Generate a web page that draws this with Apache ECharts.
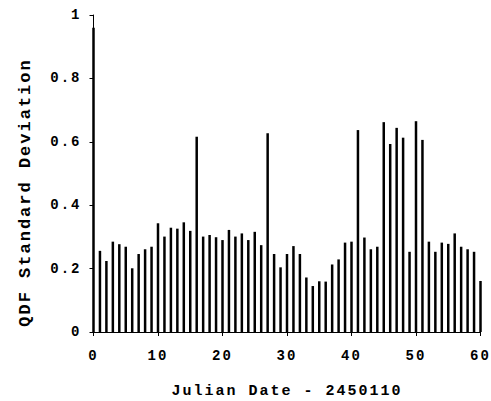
<!DOCTYPE html>
<html lang="en">

<head>
  <meta charset="UTF-8">
  <title>QDF Standard Deviation</title>
  <style>
    html, body { margin: 0; padding: 0; background: #fff; }
    .chart { width: 491px; height: 401px; }
    /* the scanned typewriter lettering is widely spaced */
    .chart text { letter-spacing: 2px; }
  </style>
</head>

<body>
  <div class="chart"></div>
  <script src="https://cdn.jsdelivr.net/npm/echarts@6/dist/echarts.min.js"></script>
  <script>
    // Julian Date - 2450110
    let days = [0, 1, 2, 3, 4, 5, 6, 7, 8, 9,
      10, 11, 12, 13, 14, 15, 16, 17, 18, 19,
      20, 21, 22, 23, 24, 25, 26, 27, 28, 29,
      30, 31, 32, 33, 34, 35, 36, 37, 38, 39,
      40, 41, 42, 43, 44, 45, 46, 47, 48, 49,
      50, 51, 52, 53, 54, 55, 56, 57, 58, 59, 60];

    // QDF standard deviation per night
    let stdDev = [0.96, 0.256, 0.224, 0.285, 0.277, 0.269, 0.201, 0.246, 0.261, 0.269,
      0.343, 0.301, 0.329, 0.326, 0.346, 0.319, 0.616, 0.301, 0.306, 0.299,
      0.290, 0.322, 0.301, 0.311, 0.290, 0.316, 0.274, 0.627, 0.246, 0.204,
      0.246, 0.271, 0.246, 0.172, 0.145, 0.160, 0.159, 0.213, 0.229, 0.282,
      0.285, 0.637, 0.298, 0.261, 0.269, 0.662, 0.593, 0.644, 0.613, 0.253,
      0.665, 0.606, 0.285, 0.253, 0.282, 0.278, 0.311, 0.269, 0.261, 0.253, 0.161];

    let xTicks = [0, 10, 20, 30, 40, 50, 60];
    let yTicks = [0, 0.2, 0.4, 0.6, 0.8, 1];

    let font = 'Liberation Mono';

    let myChart = echarts.init(document.querySelector('.chart'), null, { renderer: 'svg' });

    let option = {
      animation: false,
      grid: {
        left: 93.5,
        right: 10.5,
        top: 15,
        bottom: 69,
        outerBoundsMode: 'none'
      },
      xAxis: {
        type: 'value',
        min: xTicks[0],
        max: xTicks[xTicks.length - 1],
        interval: 10,
        name: 'Julian Date - 2450110',
        nameLocation: 'middle',
        nameGap: 52,
        nameTextStyle: { color: '#000', fontFamily: font, fontWeight: 'bold', fontSize: 15 },
        axisLine: { lineStyle: { color: '#000', width: 1 } },
        axisTick: { length: 4, lineStyle: { color: '#000' } },
        axisLabel: { color: '#000', fontFamily: font, fontWeight: 'bold', fontSize: 14, margin: 17 },
        splitLine: { show: false }
      },
      yAxis: {
        type: 'value',
        min: yTicks[0],
        max: yTicks[yTicks.length - 1],
        interval: 0.2,
        name: 'QDF Standard Deviation',
        nameLocation: 'middle',
        nameRotate: 90,
        nameGap: 60,
        nameTextStyle: {
          color: '#000', fontFamily: font, fontWeight: 'bold', fontSize: 17,
          padding: [0, 38, 0, 0]
        },
        axisLine: { show: true, lineStyle: { color: '#000', width: 1 } },
        axisTick: { show: true, length: 4, lineStyle: { color: '#000' } },
        axisLabel: { color: '#000', fontFamily: font, fontWeight: 'bold', fontSize: 14, margin: 12 },
        splitLine: { show: false }
      },
      series: [
        {
          type: 'bar',
          barWidth: 2.5,
          itemStyle: { color: '#000' },
          data: days.map((d, i) => [d, stdDev[i]])
        }
      ]
    };
    myChart.setOption(option);
  </script>
</body>

</html>
